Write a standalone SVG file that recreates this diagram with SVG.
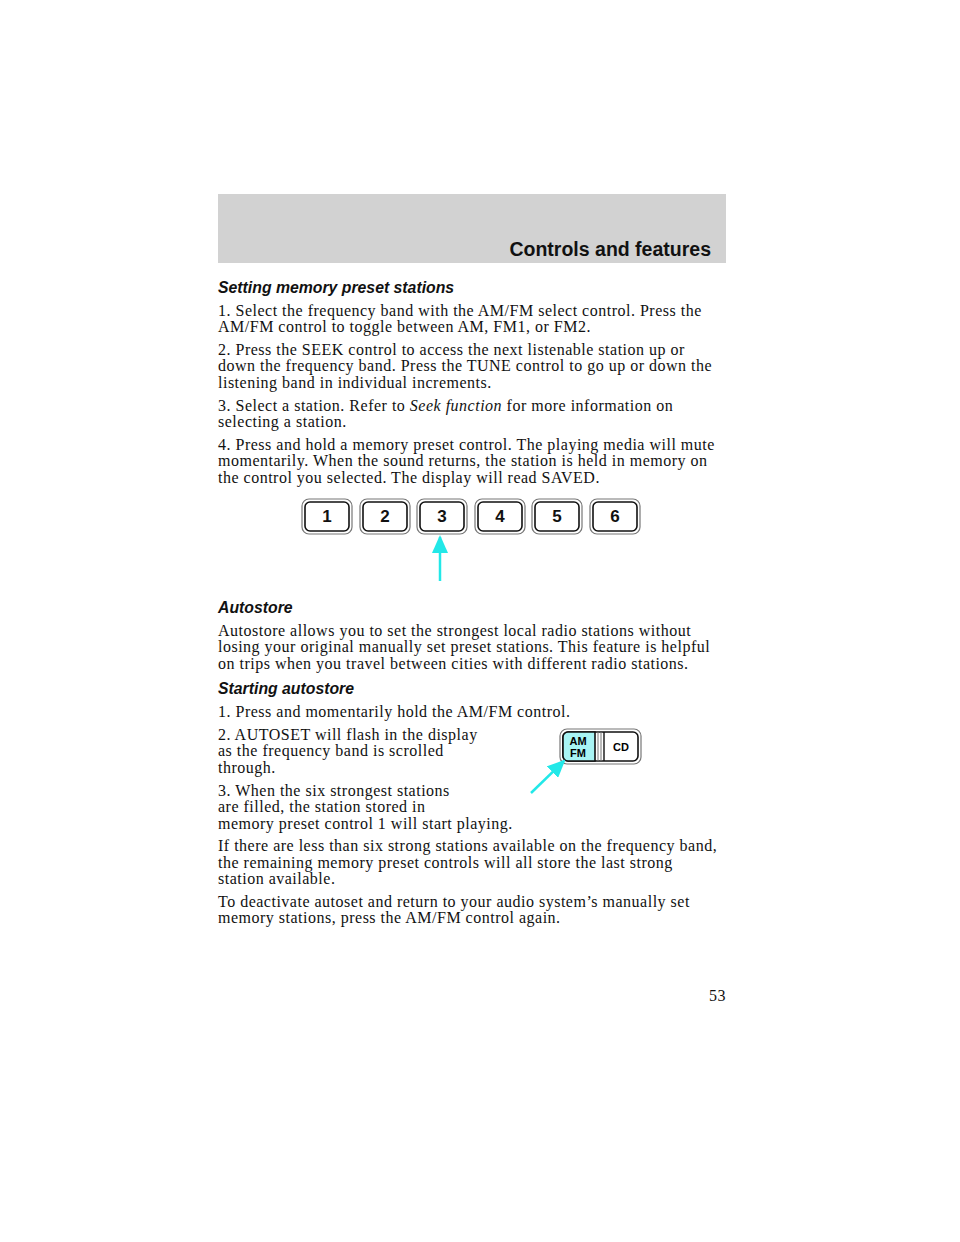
<svg xmlns="http://www.w3.org/2000/svg" width="960" height="1242" viewBox="0 0 960 1242">
<defs>
<style>
.t{font-family:"Liberation Serif",serif;font-size:16px;letter-spacing:0.5px;fill:#111}
.h{font-family:"Liberation Sans",Arial,sans-serif;font-size:15.8px;font-weight:bold;font-style:italic;fill:#111}
.bo{fill:#fff;stroke:#777;stroke-width:1.2}
.bi{fill:#fff;stroke:#111;stroke-width:1.6}
.n{font-family:"Liberation Sans",Arial,sans-serif;font-size:17px;font-weight:bold;text-anchor:middle;fill:#111}
</style>
<marker id="ah" markerWidth="18" markerHeight="16" refX="16" refY="8" orient="auto" markerUnits="userSpaceOnUse" viewBox="0 0 18 16"><path d="M0,0L18,8L0,16z" fill="#22e8e8"/></marker>
</defs>
<rect width="960" height="1242" fill="#fff"/>
<g id="header"><rect x="218" y="194" width="508" height="69" fill="#d2d2d2"/>
<text x="711" y="256" text-anchor="end" style="font-family:'Liberation Sans',Arial,sans-serif;font-size:19.5px;font-weight:bold;fill:#111">Controls and features</text></g>
<g id="text1">
<text class="h" x="218" y="293">Setting memory preset stations</text>
<text class="t" x="218" y="316">1. Select the frequency band with the AM/FM select control. Press the</text>
<text class="t" x="218" y="332">AM/FM control to toggle between AM, FM1, or FM2.</text>
<text class="t" x="218" y="355">2. Press the SEEK control to access the next listenable station up or</text>
<text class="t" x="218" y="371">down the frequency band. Press the TUNE control to go up or down the</text>
<text class="t" x="218" y="388">listening band in individual increments.</text>
<text class="t" x="218" y="411">3. Select a station. Refer to <tspan font-style="italic">Seek function</tspan> for more information on</text>
<text class="t" x="218" y="427">selecting a station.</text>
<text class="t" x="218" y="450">4. Press and hold a memory preset control. The playing media will mute</text>
<text class="t" x="218" y="466">momentarily. When the sound returns, the station is held in memory on</text>
<text class="t" x="218" y="483">the control you selected. The display will read SAVED.</text>
</g>
<g id="presets">
<g id="b1"><rect class="bo" x="302" y="499" width="50" height="35" rx="7"/><rect class="bi" x="305" y="502" width="44" height="29" rx="5"/><text class="n" x="327" y="522">1</text></g>
<g id="b2"><rect class="bo" x="360" y="499" width="50" height="35" rx="7"/><rect class="bi" x="363" y="502" width="44" height="29" rx="5"/><text class="n" x="385" y="522">2</text></g>
<g id="b3"><rect class="bo" x="417" y="499" width="50" height="35" rx="7"/><rect class="bi" x="420" y="502" width="44" height="29" rx="5"/><text class="n" x="442" y="522">3</text></g>
<g id="b4"><rect class="bo" x="475" y="499" width="50" height="35" rx="7"/><rect class="bi" x="478" y="502" width="44" height="29" rx="5"/><text class="n" x="500" y="522">4</text></g>
<g id="b5"><rect class="bo" x="532" y="499" width="50" height="35" rx="7"/><rect class="bi" x="535" y="502" width="44" height="29" rx="5"/><text class="n" x="557" y="522">5</text></g>
<g id="b6"><rect class="bo" x="590" y="499" width="50" height="35" rx="7"/><rect class="bi" x="593" y="502" width="44" height="29" rx="5"/><text class="n" x="615" y="522">6</text></g>
</g>
<g id="text2">
<text class="h" x="218" y="613">Autostore</text>
<text class="t" x="218" y="636">Autostore allows you to set the strongest local radio stations without</text>
<text class="t" x="218" y="652">losing your original manually set preset stations. This feature is helpful</text>
<text class="t" x="218" y="669">on trips when you travel between cities with different radio stations.</text>
<text class="h" x="218" y="694">Starting autostore</text>
<text class="t" x="218" y="717">1. Press and momentarily hold the AM/FM control.</text>
<text class="t" x="218" y="740">2. AUTOSET will flash in the display</text>
<text class="t" x="218" y="756">as the frequency band is scrolled</text>
<text class="t" x="218" y="773">through.</text>
<text class="t" x="218" y="796">3. When the six strongest stations</text>
<text class="t" x="218" y="812">are filled, the station stored in</text>
<text class="t" x="218" y="829">memory preset control 1 will start playing.</text>
<text class="t" x="218" y="851">If there are less than six strong stations available on the frequency band,</text>
<text class="t" x="218" y="868">the remaining memory preset controls will all store the last strong</text>
<text class="t" x="218" y="884">station available.</text>
<text class="t" x="218" y="907">To deactivate autoset and return to your audio system’s manually set</text>
<text class="t" x="218" y="923">memory stations, press the AM/FM control again.</text>
</g>
<g id="amfm">
<rect class="bo" x="560" y="729" width="81" height="35" rx="7"/>
<rect class="bi" x="563" y="732" width="75" height="29" rx="5"/>
<path d="M568,732H595V761H568A5,5 0 0 1 563,756V737A5,5 0 0 1 568,732Z" fill="#a8f4f4" stroke="#111" stroke-width="1.6"/>
<line x1="598" y1="732" x2="598" y2="761" stroke="#777"/><line x1="601" y1="732" x2="601" y2="761" stroke="#777"/><line x1="604" y1="732" x2="604" y2="761" stroke="#111" stroke-width="1.4"/>
<text x="578" y="745" text-anchor="middle" style="font-family:'Liberation Sans',Arial,sans-serif;font-size:11px;font-weight:bold">AM</text>
<text x="578" y="757" text-anchor="middle" style="font-family:'Liberation Sans',Arial,sans-serif;font-size:11px;font-weight:bold">FM</text>
<text x="621" y="751" text-anchor="middle" style="font-family:'Liberation Sans',Arial,sans-serif;font-size:11px;font-weight:bold">CD</text>
</g>
<g id="connectors" stroke="#22e8e8" stroke-width="2.5" fill="none">
<line x1="440" y1="581" x2="440" y2="537" marker-end="url(#ah)"/>
<line x1="531" y1="793" x2="564" y2="761" marker-end="url(#ah)"/>
</g>
<text class="t" x="726" y="1001" text-anchor="end">53</text>
</svg>
